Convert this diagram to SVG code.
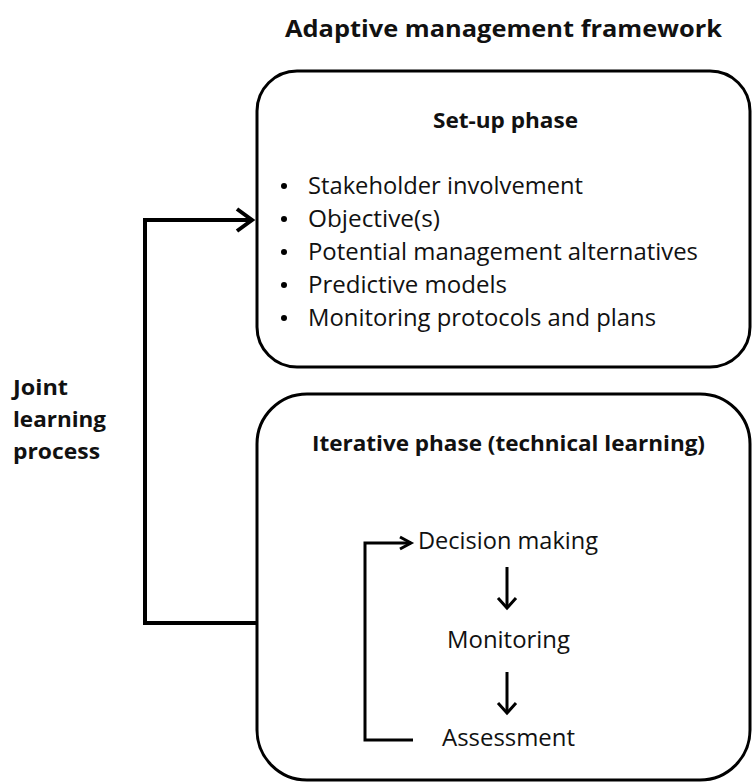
<svg xmlns="http://www.w3.org/2000/svg" width="752" height="782" viewBox="0 0 752 782">
<style>
.t{font-family:"Open Sans","Liberation Sans",sans-serif;fill:#111;}
.b{font-weight:bold;}
.n{font-size:24px;}
.box{fill:#fff;stroke:#000;stroke-width:3;}
.c4{fill:none;stroke:#000;stroke-width:4;}
.c3{fill:none;stroke:#000;stroke-width:3;}
</style>
<rect width="752" height="782" fill="#fff"/>
<text class="t b" x="285" y="37" font-size="23" textLength="437" lengthAdjust="spacingAndGlyphs">Adaptive management framework</text>
<g id="joint-label">
<text class="t b" x="13" y="395" font-size="22" textLength="55" lengthAdjust="spacingAndGlyphs">Joint</text>
<text class="t b" x="13" y="427" font-size="22" textLength="93" lengthAdjust="spacingAndGlyphs">learning</text>
<text class="t b" x="13" y="459" font-size="22" textLength="87" lengthAdjust="spacingAndGlyphs">process</text>
</g>
<g id="setup">
<rect class="box" x="257" y="71" width="493" height="296" rx="40" ry="40"/>
<text class="t b" x="433" y="128" font-size="22" textLength="145" lengthAdjust="spacingAndGlyphs">Set-up phase</text>
<g fill="#000">
<circle cx="284" cy="186" r="3"/>
<circle cx="284" cy="219" r="3"/>
<circle cx="284" cy="252" r="3"/>
<circle cx="284" cy="285" r="3"/>
<circle cx="284" cy="318" r="3"/>
</g>
<text class="t n" x="308" y="194" textLength="275" lengthAdjust="spacingAndGlyphs">Stakeholder involvement</text>
<text class="t n" x="308" y="227" textLength="132" lengthAdjust="spacingAndGlyphs">Objective(s)</text>
<text class="t n" x="308" y="260" textLength="390" lengthAdjust="spacingAndGlyphs">Potential management alternatives</text>
<text class="t n" x="308" y="293" textLength="199" lengthAdjust="spacingAndGlyphs">Predictive models</text>
<text class="t n" x="308" y="326" textLength="348" lengthAdjust="spacingAndGlyphs">Monitoring protocols and plans</text>
</g>
<g id="iterative">
<rect class="box" x="257" y="394" width="493" height="386" rx="50" ry="50"/>
<text class="t b" x="312" y="451" font-size="22" textLength="393" lengthAdjust="spacingAndGlyphs">Iterative phase (technical learning)</text>
</g>
<g id="decision"><text class="t n" x="418" y="549" textLength="180" lengthAdjust="spacingAndGlyphs">Decision making</text></g>
<g id="monitoring"><text class="t n" x="447" y="648" textLength="123" lengthAdjust="spacingAndGlyphs">Monitoring</text></g>
<g id="assessment"><text class="t n" x="442" y="746" textLength="133" lengthAdjust="spacingAndGlyphs">Assessment</text></g>
<g id="connectors">
<polyline class="c4" points="256,623 145,623 145,220 252,220"/>
<polyline class="c4" points="237,209 252,220 237,231"/>
<polyline class="c3" points="413,740 365,740 365,543 411,543"/>
<polyline class="c3" points="400,537 411,543 400,549"/>
<line class="c3" x1="507" y1="567" x2="507" y2="607"/>
<polyline class="c3" points="498,598 507,608 516,598"/>
<line class="c3" x1="507" y1="672" x2="507" y2="712"/>
<polyline class="c3" points="498,703 507,713 516,703"/>
</g>
</svg>
